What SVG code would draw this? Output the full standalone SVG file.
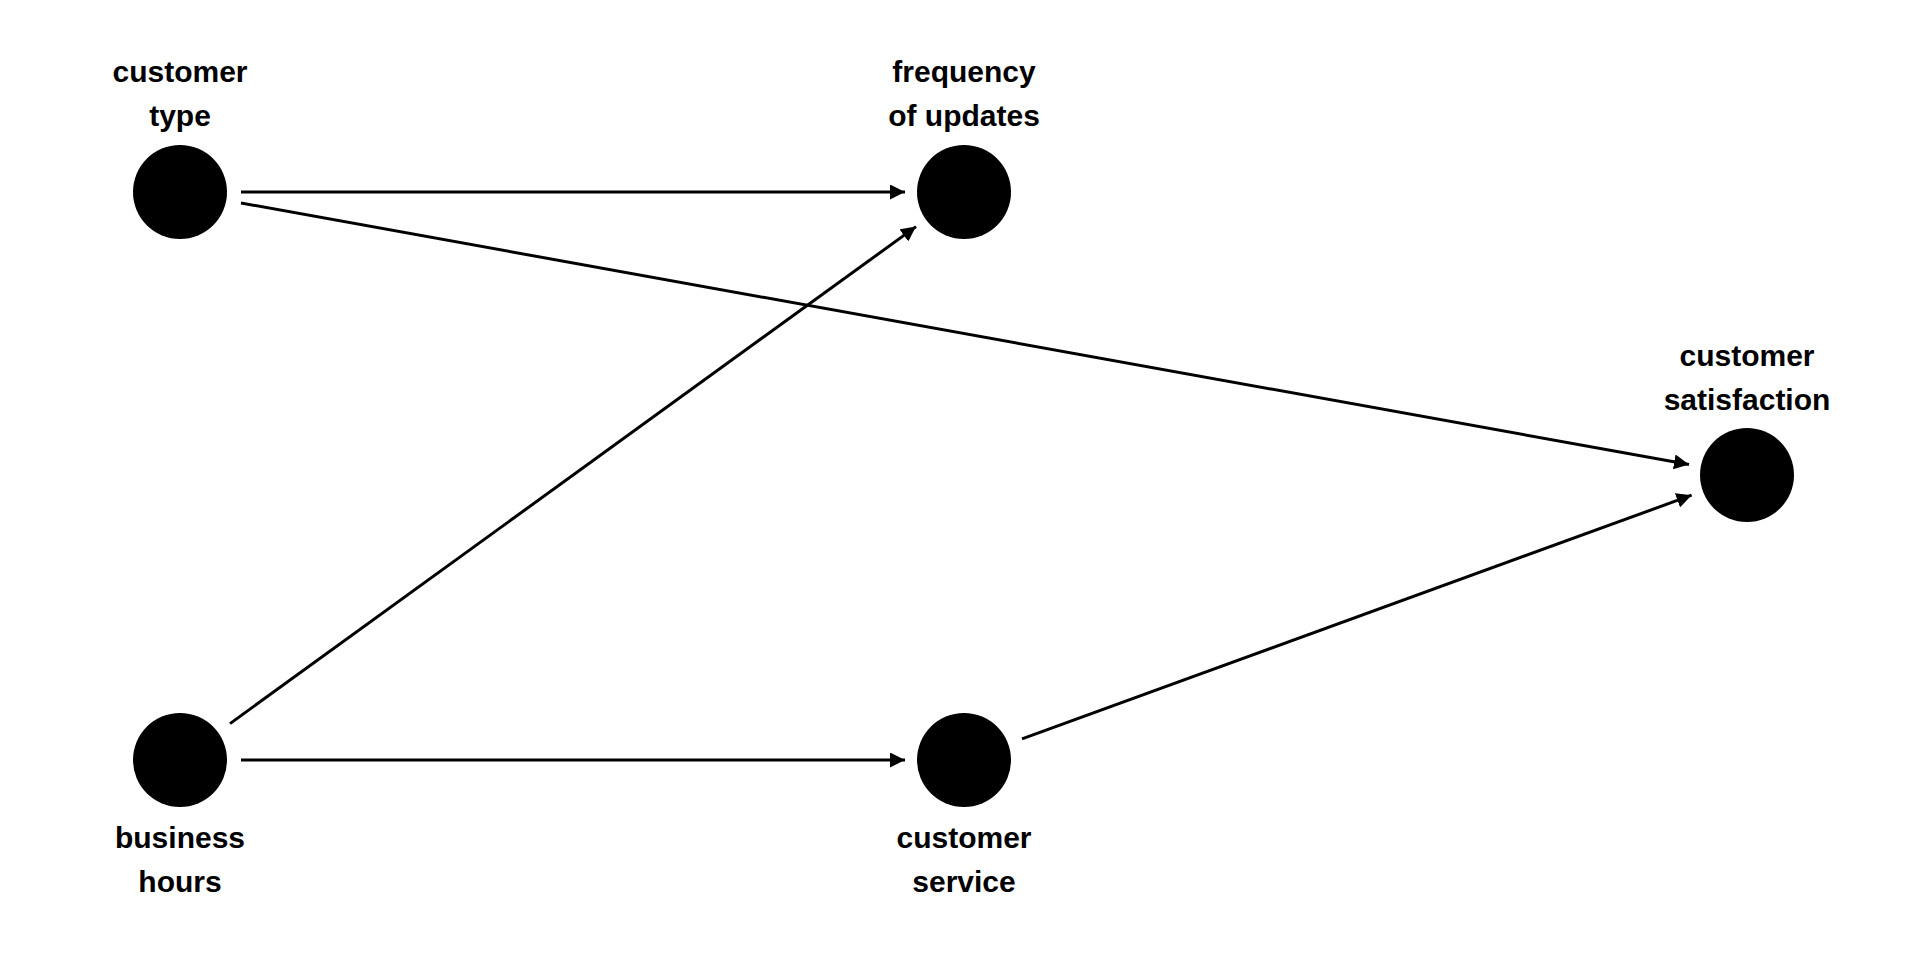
<svg xmlns="http://www.w3.org/2000/svg" width="1920" height="960" viewBox="0 0 1920 960">
<style>
.node circle{fill:#000}
.node text{font-family:"Liberation Sans",Arial,sans-serif;font-weight:bold;font-size:30px;text-anchor:middle;fill:#000}
.edge{stroke:#000;stroke-width:3;fill:none;marker-end:url(#arrow)}
</style>
<defs>
<marker id="arrow" viewBox="0 0 10 10" refX="10" refY="5" markerWidth="5" markerHeight="5" orient="auto" markerUnits="strokeWidth">
<path d="M0,0 L10,5 L0,10 Z" fill="#000"/>
</marker>
</defs>
<rect width="1920" height="960" fill="#fff"/>
<g id="connectors">
<line class="edge" x1="241" y1="192" x2="905" y2="192"/>
<line class="edge" x1="241" y1="203" x2="1689" y2="464.5"/>
<line class="edge" x1="230" y1="723.6" x2="916" y2="226.6"/>
<line class="edge" x1="241" y1="760" x2="905" y2="760"/>
<line class="edge" x1="1022" y1="738.8" x2="1691.6" y2="495.2"/>
</g>
<g id="customer-type" class="node">
<circle cx="180" cy="192" r="47"/>
<text x="180" y="82">customer</text>
<text x="180" y="126">type</text>
</g>
<g id="frequency-of-updates" class="node">
<circle cx="964" cy="192" r="47"/>
<text x="964" y="82">frequency</text>
<text x="964" y="126">of updates</text>
</g>
<g id="customer-satisfaction" class="node">
<circle cx="1747" cy="475" r="47"/>
<text x="1747" y="366">customer</text>
<text x="1747" y="410">satisfaction</text>
</g>
<g id="business-hours" class="node">
<circle cx="180" cy="760" r="47"/>
<text x="180" y="848">business</text>
<text x="180" y="892">hours</text>
</g>
<g id="customer-service" class="node">
<circle cx="964" cy="760" r="47"/>
<text x="964" y="848">customer</text>
<text x="964" y="892">service</text>
</g>
</svg>
